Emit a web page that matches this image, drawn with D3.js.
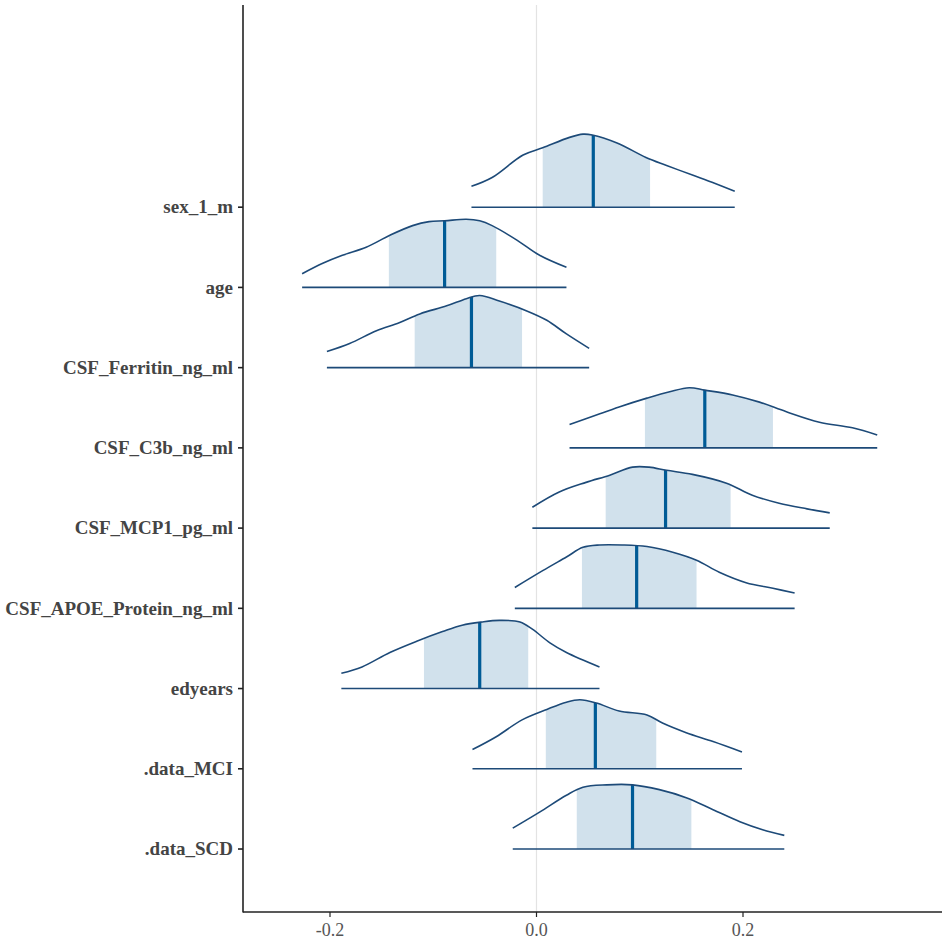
<!DOCTYPE html>
<html><head><meta charset="utf-8">
<script src="https://cdn.jsdelivr.net/npm/d3@7"></script>
<style>body{margin:0;background:#fff} svg text{font-family:"Liberation Serif","Times New Roman",Times,serif}</style>
</head><body>
<svg id="chart" width="942" height="945"></svg>
<script>
const categories = ["sex_1_m","age","CSF_Ferritin_ng_ml","CSF_C3b_ng_ml","CSF_MCP1_pg_ml","CSF_APOE_Protein_ng_ml","edyears",".data_MCI",".data_SCD"];
const xTicks = [-0.2, 0.0, 0.2];
const xTickLabels = ["-0.2","0.0","0.2"];
// posterior density outlines (x value, density in row units)
const densX = [
  [-0.063,-0.043,-0.013,0.006,0.032,0.045,0.054,0.078,0.106,0.126,0.151,0.170,0.192],
  [-0.227,-0.207,-0.188,-0.165,-0.142,-0.120,-0.104,-0.089,-0.068,-0.055,-0.043,-0.019,0.003,0.029],
  [-0.203,-0.181,-0.155,-0.133,-0.113,-0.087,-0.068,-0.055,-0.036,-0.010,0.010,0.029,0.051],
  [0.032,0.058,0.080,0.107,0.129,0.148,0.163,0.190,0.216,0.242,0.274,0.306,0.330],
  [-0.004,0.022,0.048,0.071,0.093,0.109,0.126,0.151,0.184,0.209,0.235,0.262,0.284],
  [-0.021,0.006,0.029,0.045,0.061,0.083,0.107,0.132,0.155,0.177,0.203,0.229,0.250],
  [-0.189,-0.169,-0.142,-0.116,-0.091,-0.072,-0.053,-0.036,-0.016,-0.004,0.013,0.029,0.061],
  [-0.062,-0.039,-0.014,0.010,0.029,0.042,0.058,0.080,0.107,0.122,0.145,0.171,0.199],
  [-0.023,0.003,0.029,0.045,0.068,0.093,0.119,0.145,0.171,0.197,0.219,0.240]
];
const densY = [
  [0.26,0.37,0.65,0.74,0.87,0.91,0.90,0.80,0.62,0.52,0.40,0.31,0.20],
  [0.17,0.30,0.40,0.50,0.65,0.77,0.82,0.83,0.85,0.83,0.77,0.59,0.40,0.25],
  [0.20,0.30,0.46,0.56,0.67,0.77,0.86,0.90,0.83,0.71,0.59,0.42,0.24],
  [0.29,0.41,0.51,0.62,0.70,0.75,0.72,0.66,0.57,0.45,0.32,0.25,0.16],
  [0.26,0.45,0.57,0.66,0.76,0.76,0.72,0.67,0.56,0.41,0.31,0.24,0.19],
  [0.26,0.47,0.64,0.76,0.79,0.79,0.77,0.70,0.60,0.45,0.32,0.25,0.19],
  [0.19,0.27,0.45,0.59,0.71,0.79,0.83,0.85,0.83,0.74,0.57,0.45,0.27],
  [0.24,0.40,0.61,0.74,0.83,0.86,0.82,0.72,0.67,0.57,0.45,0.34,0.21],
  [0.26,0.46,0.67,0.77,0.80,0.80,0.74,0.64,0.49,0.34,0.24,0.17]
];
const intervalLo = [0.006,-0.143,-0.118,0.105,0.067,0.044,-0.109,0.009,0.039];
const intervalHi = [0.110,-0.039,-0.014,0.229,0.188,0.155,-0.008,0.116,0.150];
const medians    = [0.055,-0.089,-0.063,0.163,0.125,0.097,-0.055,0.057,0.093];

const svg = d3.select("#chart");
const pLeft = 243, pRight = 942, pTop = 5, pBottom = 912;
const x = d3.scaleLinear().domain([-0.2, 0.2]).range([330, 743]);
const n = categories.length;
const y = d3.scaleLinear().domain([-0.785, 10.52]).range([pBottom, pTop]);
const rowPos = i => n - 1 - i;

const dark = "#1d4a78", mid = "#005b96", light = "#d1e1ec";
const curve = d3.curveCatmullRom.alpha(0.5);

svg.append("line").attr("x1", x(0)).attr("x2", x(0)).attr("y1", pTop).attr("y2", pBottom)
  .attr("stroke", "#e3e3e3").attr("stroke-width", 1.2);

const defs = svg.append("defs");
categories.forEach((c, i) => {
  const base = rowPos(i);
  const pts = densX[i].map((v, j) => [v, densY[i][j]]);
  const area = d3.area().x(d => x(d[0])).y0(y(base)).y1(d => y(base + d[1])).curve(curve);
  const line = d3.line().x(d => x(d[0])).y(d => y(base + d[1])).curve(curve);
  const cid = "clip" + i;
  defs.append("clipPath").attr("id", cid).append("path").attr("d", area(pts));
  const g = svg.append("g");
  g.append("rect").attr("clip-path", `url(#${cid})`)
    .attr("x", x(intervalLo[i])).attr("width", x(intervalHi[i]) - x(intervalLo[i]))
    .attr("y", y(base + 1.2)).attr("height", y(base) - y(base + 1.2))
    .attr("fill", light);
  g.append("rect").attr("clip-path", `url(#${cid})`)
    .attr("x", x(medians[i]) - 1.6).attr("width", 3.2)
    .attr("y", y(base + 1.2)).attr("height", y(base) - y(base + 1.2))
    .attr("fill", mid);
  g.append("path").attr("d", line(pts)).attr("fill", "none").attr("stroke", dark).attr("stroke-width", 1.6);
  g.append("line").attr("x1", x(densX[i][0])).attr("x2", x(densX[i][densX[i].length - 1]))
    .attr("y1", y(base)).attr("y2", y(base)).attr("stroke", dark).attr("stroke-width", 1.6);
});

const axisCol = "#222";
svg.append("line").attr("x1", pLeft).attr("x2", pLeft).attr("y1", pTop).attr("y2", pBottom + 0.5)
  .attr("stroke", axisCol).attr("stroke-width", 1.6);
svg.append("line").attr("x1", pLeft).attr("x2", pRight).attr("y1", pBottom).attr("y2", pBottom)
  .attr("stroke", axisCol).attr("stroke-width", 1.6);

categories.forEach((c, i) => {
  const yy = y(rowPos(i));
  svg.append("line").attr("x1", pLeft - 5).attr("x2", pLeft).attr("y1", yy).attr("y2", yy)
    .attr("stroke", axisCol).attr("stroke-width", 1.6);
  svg.append("text").attr("x", pLeft - 10).attr("y", yy).attr("dy", "0.33em")
    .attr("text-anchor", "end")
    .attr("font-weight", "bold").attr("font-size", 19).attr("fill", "#444").text(c);
});
xTicks.forEach((t, k) => {
  svg.append("line").attr("x1", x(t)).attr("x2", x(t)).attr("y1", pBottom).attr("y2", pBottom + 5)
    .attr("stroke", axisCol).attr("stroke-width", 1.2);
  svg.append("text").attr("x", x(t)).attr("y", pBottom + 24).attr("text-anchor", "middle")
    .attr("font-size", 18).attr("fill", "#555")
    .text(xTickLabels[k]);
});
</script>
</body></html>
